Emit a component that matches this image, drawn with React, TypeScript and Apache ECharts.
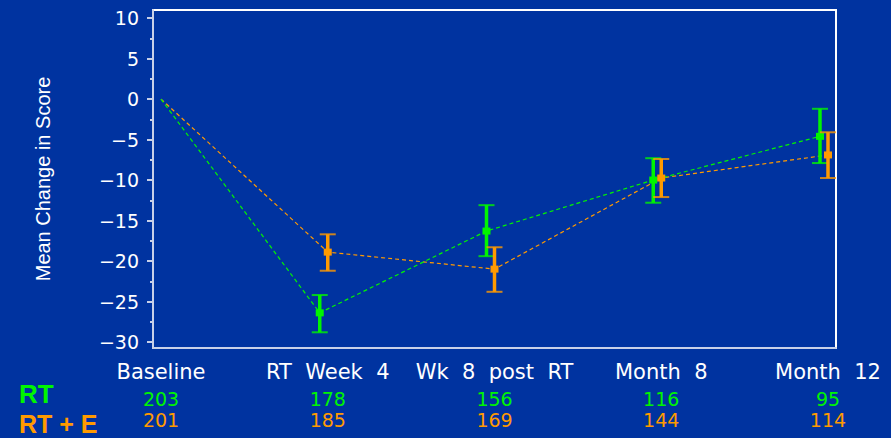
import React, { useEffect, useRef } from "react";
import * as echarts from "echarts";

// Visit labels along the x axis
const visits = ["Baseline", "RT  Week  4", "Wk  8  post  RT", "Month  8", "Month  12"];

// Patients analysed at each visit
const countsRT = [203, 178, 156, 116, 95];
const countsRTE = [201, 185, 169, 144, 114];

// Mean change in score per visit (baseline is 0 by definition)
const meanRT = [0, -26.4, -16.3, -10.0, -4.6];
const meanRTE = [0, -18.9, -21.0, -9.75, -6.9];

// Error bar ends (lower, upper) for the post-baseline visits
const lowRT = [null, -28.8, -19.4, -12.8, -7.9];
const highRT = [null, -24.2, -13.1, -7.3, -1.2];
const lowRTE = [null, -21.2, -23.8, -12.1, -9.75];
const highRTE = [null, -16.7, -18.3, -7.4, -4.1];

// Y axis tick labels and minor ticks
const yMajorTicks = [-30, -25, -20, -15, -10, -5, 0, 5, 10];
const yMinorTicks = [-27.5, -22.5, -17.5, -12.5, -7.5, -2.5, 2.5, 7.5];

const BG = "#0033A0";
const GREEN = "#00F500";
const ORANGE = "#FF9A00";
const GREEN_SHIFT = -0.048; // RT marks sit just left of each visit

function buildLine(means: number[], shift: number) {
  return means.map((v, i) => [i === 0 ? 0 : i + shift, v]);
}

function buildBars(low: (number | null)[], high: (number | null)[], means: number[], shift: number) {
  const out: number[][] = [];
  for (let i = 0; i < means.length; i++) {
    if (low[i] == null || high[i] == null) continue;
    out.push([i + shift, low[i] as number, high[i] as number, means[i]]);
  }
  return out;
}

function errorBarRenderer(color: string) {
  return (params: any, api: any) => {
    const x = api.value(0);
    const lo = api.coord([x, api.value(1)]);
    const hi = api.coord([x, api.value(2)]);
    const mid = api.coord([x, api.value(3)]);
    const half = 8;
    return {
      type: "group",
      children: [
        { type: "line", shape: { x1: hi[0], y1: hi[1], x2: lo[0], y2: lo[1] }, style: { stroke: color, lineWidth: 3.5 } },
        { type: "line", shape: { x1: hi[0] - half, y1: hi[1], x2: hi[0] + half, y2: hi[1] }, style: { stroke: color, lineWidth: 2, opacity: 0.8 } },
        { type: "line", shape: { x1: lo[0] - half, y1: lo[1], x2: lo[0] + half, y2: lo[1] }, style: { stroke: color, lineWidth: 2, opacity: 0.8 } },
        { type: "rect", shape: { x: mid[0] - 4, y: mid[1] - 3.5, width: 8, height: 7 }, style: { fill: color } },
      ],
    };
  };
}

export default function App() {
  const ref = useRef<HTMLDivElement>(null);

  useEffect(() => {
    if (!ref.current) return;
    const chart = echarts.init(ref.current, null, { renderer: "svg" });

    const xMin = -0.048;
    const xMax = 4.048;
    const countAxis = (counts: number[], color: string, offset: number) => ({
      type: "value",
      min: xMin,
      max: xMax,
      position: "bottom",
      offset,
      axisLine: { show: false, onZero: false },
      axisTick: { show: false },
      splitLine: { show: false },
      axisLabel: {
        customValues: [0, 1, 2, 3, 4],
        formatter: (v: number) => String(counts[Math.round(v)]),
        color,
        fontFamily: "DejaVu Sans",
        fontSize: 19,
        margin: 14,
      },
    });

    chart.setOption({
      animation: false,
      backgroundColor: BG,
      grid: {
        left: 153,
        right: 55,
        top: 10,
        bottom: 90,
        show: true,
        borderColor: "#FFFFFF",
        borderWidth: 2,
        backgroundColor: "transparent",
      },
      xAxis: [
        {
          type: "value",
          min: xMin,
          max: xMax,
          position: "bottom",
          axisLine: { show: true, onZero: false, lineStyle: { color: "#C8D0E8", width: 2 } },
          axisTick: { show: false },
          splitLine: { show: false },
          axisLabel: {
            customValues: [0, 1, 2, 3, 4],
            formatter: (v: number) => visits[Math.round(v)],
            color: "#FFFFFF",
            fontFamily: "DejaVu Sans",
            fontSize: 21,
            margin: 13,
          },
        },
        countAxis(countsRT, GREEN, 27),
        countAxis(countsRTE, ORANGE, 48),
      ],
      yAxis: [
        {
          type: "value",
          min: -30.74,
          max: 11,
          name: "Mean Change in Score",
          nameLocation: "middle",
          nameGap: 100,
          nameRotate: 90,
          nameTextStyle: { color: "#FFFFFF", fontFamily: "Liberation Sans", fontSize: 20 },
          axisLine: { show: true, onZero: false, lineStyle: { color: "#C8D0E8", width: 2 } },
          axisTick: { show: true, customValues: yMajorTicks, length: 6, lineStyle: { color: "#C8D0E8", width: 2 } },
          splitLine: { show: false },
          axisLabel: {
            customValues: yMajorTicks,
            formatter: (v: number) => (v < 0 ? "\u2212" + Math.abs(v) : String(v)),
            color: "#FFFFFF",
            fontFamily: "DejaVu Sans",
            fontSize: 19,
            margin: 14,
          },
        },
        {
          type: "value",
          min: -30.74,
          max: 11,
          position: "left",
          axisLine: { show: false, onZero: false },
          axisTick: { show: true, customValues: yMinorTicks, length: 3, lineStyle: { color: "#C8D0E8", width: 2 } },
          axisLabel: { show: false },
          splitLine: { show: false },
        },
      ],
      graphic: [
        {
          type: "text",
          x: 19,
          y: 394,
          style: { text: "RT", fill: GREEN, font: "bold 26px 'Liberation Sans'", verticalAlign: "middle" },
        },
        {
          type: "text",
          x: 19,
          y: 424,
          style: { text: "RT + E", fill: ORANGE, font: "bold 25px 'Liberation Sans'", verticalAlign: "middle" },
        },
      ],
      series: [
        {
          type: "line",
          data: buildLine(meanRTE, 0),
          symbol: "none",
          lineStyle: { color: ORANGE, width: 1.2, type: [4, 3] },
          z: 2,
        },
        {
          type: "line",
          data: buildLine(meanRT, GREEN_SHIFT),
          symbol: "none",
          lineStyle: { color: GREEN, width: 1.2, type: [4, 3] },
          z: 2,
        },
        {
          type: "custom",
          renderItem: errorBarRenderer(GREEN),
          data: buildBars(lowRT, highRT, meanRT, GREEN_SHIFT),
          encode: { x: 0, y: [1, 2, 3] },
          z: 3,
        },
        {
          type: "custom",
          renderItem: errorBarRenderer(ORANGE),
          data: buildBars(lowRTE, highRTE, meanRTE, 0),
          encode: { x: 0, y: [1, 2, 3] },
          z: 3,
        },
      ],
    });

    return () => chart.dispose();
  }, []);

  return (
    <div
      ref={ref}
      style={{ position: "fixed", left: 0, top: 0, width: 891, height: 438 }}
    />
  );
}
